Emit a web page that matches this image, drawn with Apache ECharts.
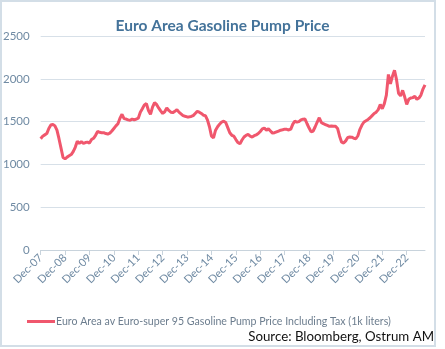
<!DOCTYPE html>
<html><head><meta charset="utf-8">
<script src="https://cdn.jsdelivr.net/npm/echarts@6/dist/echarts.min.js"></script>
<style>html,body{margin:0;padding:0;background:#fff}#c{width:445px;height:349px}</style>
</head><body><div id="c"></div>
<script>
// Monthly categories Dec-07 .. Sep-23
var monthNames = ['Dec','Jan','Feb','Mar','Apr','May','Jun','Jul','Aug','Sep','Oct','Nov'];
var startYear = 7, monthCount = 190;
var categories = [];
for (var i = 0; i < monthCount; i++) {
  var y = startYear + Math.floor((i + 11) / 12);
  var m = monthNames[i % 12];
  categories.push(m + '-' + (y < 10 ? '0' + y : '' + y));
}
// Pump price values (EUR per 1k liters), one per month
var price = [
  1300,1330,1345,1360,1420,1460,1468,1450,1400,1300,1190,1080,
  1065,1085,1100,1115,1150,1200,1270,1245,1265,1245,1255,1260,
  1250,1290,1305,1340,1385,1375,1370,1370,1360,1355,1365,1390,
  1420,1450,1475,1540,1585,1535,1530,1520,1515,1530,1520,1530,
  1540,1610,1650,1695,1710,1630,1585,1670,1720,1700,1660,1625,
  1595,1615,1660,1630,1610,1605,1620,1640,1610,1590,1570,1562,
  1555,1555,1560,1570,1595,1620,1610,1595,1575,1570,1520,1440,
  1330,1310,1400,1440,1470,1495,1505,1490,1430,1370,1340,1330,
  1290,1255,1240,1285,1320,1340,1350,1330,1320,1335,1345,1360,
  1385,1415,1425,1400,1415,1390,1365,1370,1380,1390,1400,1405,
  1412,1410,1402,1412,1470,1505,1495,1500,1520,1528,1530,1475,
  1425,1380,1390,1440,1495,1545,1490,1475,1465,1455,1445,1448,
  1445,1445,1420,1330,1260,1250,1275,1315,1320,1318,1305,1300,
  1335,1410,1460,1495,1510,1525,1545,1570,1595,1610,1640,1700,
  1650,1710,1810,2050,1940,2030,2100,1990,1830,1800,1865,1790,
  1700,1760,1775,1780,1795,1760,1775,1810,1880,1930
];
var seriesName = 'Euro Area av Euro-super 95 Gasoline Pump Price Including Tax (1k liters)';
var titleText = 'Euro Area Gasoline Pump Price';
var sourceText = 'Source: Bloomberg, Ostrum AM';

var chart = echarts.init(document.getElementById('c'), null, {renderer:'canvas'});
var FONT = 'Lato';
chart.setOption({
  animation: false,
  backgroundColor: '#ffffff',
  title: {
    text: titleText, left: 'center', top: 13,
    textStyle: {fontFamily: FONT, fontSize: 15.5, fontWeight: 'bold', color: '#44739a'}
  },
  grid: {left: 37, right: 20, top: 36, bottom: 99},
  xAxis: {
    type: 'category', data: categories, boundaryGap: false,
    axisLine: {lineStyle: {color: '#c8d3dc', width: 1}},
    axisTick: {show: true, length: 5, interval: function(i){return i % 12 === 0;}, lineStyle:{color:'#c8d3dc'}},
    axisLabel: {interval: function(i){return i % 12 === 0;}, rotate: 45, margin: 6,
      fontFamily: FONT, fontSize: 11, color: '#6f8aa3'},
    splitLine: {show: false}
  },
  yAxis: {
    type: 'value', min: 0, max: 2500, interval: 500,
    axisLine: {show: false}, axisTick: {show: false},
    axisLabel: {fontFamily: FONT, fontSize: 11.5, color: '#6f8aa3', margin: 11,
      formatter: function(v){return String(v);}},
    splitLine: {lineStyle: {color: '#d7e0e8', width: 1}}
  },
  legend: {
    left: 22, top: 311, icon: 'rect', itemWidth: 28, itemHeight: 3, itemGap: 4,
    textStyle: {fontFamily: FONT, fontSize: 10.6, color: '#6c7d8e', padding: [0,0,0,-4]},
    data: [seriesName]
  },
  series: [{
    name: seriesName, type: 'line', data: price, showSymbol: false, symbol: 'none',
    lineStyle: {color: '#f0576d', width: 3}, itemStyle: {color: '#f0576d'}
  }],
  graphic: [
    {type: 'rect', shape: {x: 1, y: 1, width: 434, height: 345},
     style: {fill: 'none', stroke: '#d3dee7', lineWidth: 2}, silent: true},
    {type: 'text', right: 11, top: 330,
     style: {text: sourceText, font: '13.3px ' + FONT, fill: '#111111'}}
  ]
});
</script></body></html>
